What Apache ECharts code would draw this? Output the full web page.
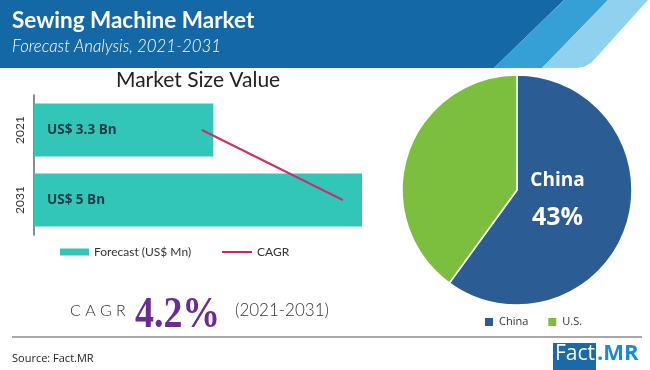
<!DOCTYPE html>
<html><head><meta charset="utf-8">
<script src="https://cdn.jsdelivr.net/npm/echarts@6/dist/echarts.min.js"></script>
<style>html,body{margin:0;padding:0;background:#fff}#c{width:650px;height:370px}</style>
</head><body><div id="c"></div>
<script>
const years = ['2021', '2031'];
const marketSize = [3.3, 5];           // US$ Bn
const cagrLine = [3.17, 4.78];         // CAGR trend line position
const regions = ['China', 'U.S.'];
const regionShare = [60, 40];
const chinaLabel = '43%';
const cagrValue = '4.2%';
const cagrPeriod = '(2021-2031)';

const chart = echarts.init(document.getElementById('c'), null, {renderer: 'canvas'});
chart.setOption({
  backgroundColor: '#ffffff',
  animation: false,
  graphic: [
    {type: 'polygon', shape: {points: [[0, 0], [564, 0], [494, 68], [0, 68]]}, style: {fill: '#1568a6'}, z: 0},
    {type: 'polygon', shape: {points: [[564, 0], [608, 0], [542, 68], [494, 68]]}, style: {fill: '#35a0d6'}, z: 1},
    {type: 'polygon', shape: {points: [[608, 0], [648, 0], [592, 62], [584, 67], [576, 68], [542, 68]]}, style: {fill: '#8fd1ef'}, z: 1},
    {type: 'text', left: 12, top: 9, style: {text: 'Sewing Machine Market', fill: '#fff', font: 'bold 22.5px Lato, "Open Sans", sans-serif'}, z: 2},
    {type: 'text', left: 12, top: 38, style: {text: 'Forecast Analysis, 2021-2031', fill: '#fff', font: 'italic 300 16.8px Lato, "Open Sans", sans-serif'}, z: 2},
    {type: 'text', left: 116, top: 70, style: {text: 'Market Size Value', fill: '#222', font: '21px Lato, "Open Sans", sans-serif'}},
    {type: 'text', left: 70, top: 303, style: {text: 'C A G R', fill: '#333', font: '300 16px Lato, sans-serif'}},
    {type: 'text', x: 135, y: 294, scaleX: 0.86, style: {text: cagrValue, fill: '#6a2b94', font: 'bold 44px "Liberation Serif", serif'}},
    {type: 'text', left: 235, top: 302, style: {text: cagrPeriod, fill: '#333', font: '300 17px Lato, sans-serif'}},
    {type: 'rect', shape: {x: 12, y: 336, width: 630, height: 2}, style: {fill: '#a8a8a8'}},
    {type: 'text', left: 12, top: 353, style: {text: 'Source: Fact.MR', fill: '#222', font: '11px "Open Sans", sans-serif'}},
    {type: 'rect', shape: {x: 553, y: 343, width: 43, height: 27}, style: {fill: '#1a6aa8'}},
    {type: 'text', left: 555, top: 344, style: {text: 'Fact', fill: '#fff', font: '21px "Open Sans", sans-serif'}, z: 3},
    {type: 'text', left: 597, top: 343, style: {text: '.MR', fill: '#1a8ad4', font: 'bold 22px "Open Sans", sans-serif'}}
  ],
  grid: {left: 34, right: 288, top: 95, bottom: 135, containLabel: false},
  xAxis: {type: 'value', min: 1.25, max: 5, show: false},
  yAxis: {
    type: 'category', data: years, inverse: true,
    axisLine: {show: true, lineStyle: {color: '#666', width: 1.5}},
    axisTick: {show: false},
    axisLabel: {rotate: 90, color: '#333', fontSize: 12, fontFamily: 'Lato, sans-serif', margin: 8}
  },
  legend: [
    {data: ['Forecast (US$ Mn)'], left: 55, top: 241, itemWidth: 29, itemHeight: 7, icon: 'rect',
     textStyle: {fontSize: 12, color: '#333', fontFamily: 'Lato, sans-serif'}},
    {data: ['CAGR'], left: 217, top: 241, itemWidth: 30, itemHeight: 2, icon: 'rect',
     textStyle: {fontSize: 12, color: '#333', fontFamily: 'Lato, sans-serif'}},
    {data: regions, left: 478, top: 311, itemWidth: 10, itemHeight: 10, icon: 'rect', itemGap: 18,
     textStyle: {fontSize: 11, color: '#333', fontFamily: '"Open Sans", sans-serif'}}
  ],
  series: [
    {
      name: 'Forecast (US$ Mn)', type: 'bar', data: marketSize, barWidth: 53,
      itemStyle: {color: '#31c6b8'},
      label: {show: true, position: 'insideLeft', distance: 13, color: '#1b3a48',
        fontSize: 13.5, fontWeight: 'bold', fontFamily: '"Open Sans", sans-serif',
        formatter: p => 'US$ ' + p.value + ' Bn'}
    },
    {
      name: 'CAGR', type: 'line', data: cagrLine, symbol: 'none', z: 5,
      lineStyle: {color: '#c8306c', width: 2}, itemStyle: {color: '#d2225a'}
    },
    {
      name: 'Share', type: 'pie', center: [517, 190], radius: [0, 115],
      startAngle: 90, clockwise: true,
      data: regions.map((r, i) => ({name: r, value: regionShare[i]})),
      color: ['#2b5c93', '#7cbf3f'],
      itemStyle: {borderColor: '#fff', borderWidth: 1.5},
      label: {
        show: true, position: 'inside',
        formatter: p => p.dataIndex === 0 ? '{a|' + p.name + '}\n{b|' + chinaLabel + '}' : '',
        padding: [0, 34, 16, 0],
        rich: {
          a: {fontSize: 19, fontWeight: 'bold', color: '#fff', fontFamily: '"Open Sans", sans-serif', lineHeight: 34},
          b: {fontSize: 25, fontWeight: 'bold', color: '#fff', fontFamily: '"Open Sans", sans-serif', lineHeight: 40}
        }
      },
      labelLine: {show: false}
    }
  ]
});
</script></body></html>
